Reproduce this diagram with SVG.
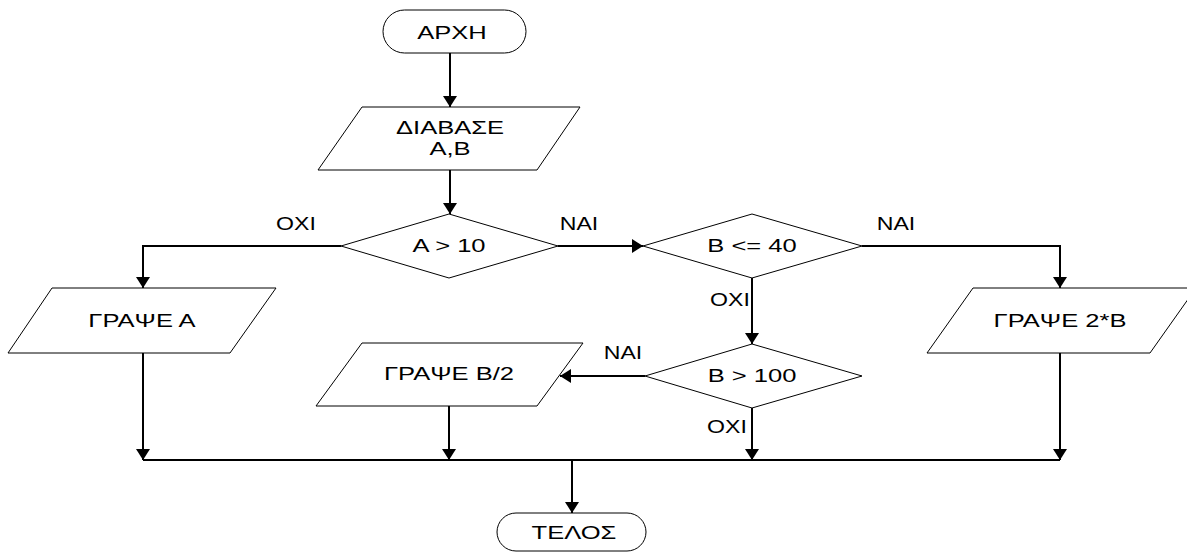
<svg xmlns="http://www.w3.org/2000/svg" width="1187" height="553" viewBox="0 0 1187 553">
<style>
.s{fill:#fff;stroke:#000;stroke-width:1}
.c{fill:none;stroke:#000;stroke-width:2}
text{font-family:"Liberation Sans",Arial,sans-serif;font-size:17.5px;fill:#000;text-anchor:middle;dominant-baseline:central}
</style>
<defs>
<marker id="ah" viewBox="0 0 11 14" refX="11" refY="7" markerWidth="11" markerHeight="14" markerUnits="userSpaceOnUse" orient="auto">
<path d="M0,0 L11,7 L0,14 Z" fill="#000"/>
</marker>
</defs>
<rect width="1187" height="553" fill="#fff"/>
<g id="connectors">
<path class="c" d="M450,53 V107" marker-end="url(#ah)"/>
<path class="c" d="M450,170 V214" marker-end="url(#ah)"/>
<path class="c" d="M341,246 H143 V288" marker-end="url(#ah)"/>
<path class="c" d="M558,246 H643" marker-end="url(#ah)"/>
<path class="c" d="M862,246 H1060 V288" marker-end="url(#ah)"/>
<path class="c" d="M752,278 V344" marker-end="url(#ah)"/>
<path class="c" d="M645,376 H560" marker-end="url(#ah)"/>
<path class="c" d="M143,353 V460" marker-end="url(#ah)"/>
<path class="c" d="M449,406 V460" marker-end="url(#ah)"/>
<path class="c" d="M752,408 V460" marker-end="url(#ah)"/>
<path class="c" d="M1060,353 V460" marker-end="url(#ah)"/>
<path class="c" d="M143,460 H1060"/>
<path class="c" d="M572,460 V513" marker-end="url(#ah)"/>
<text transform="translate(296,224) scale(1.32,1)">ΟΧΙ</text>
<text transform="translate(579,224) scale(1.32,1)">ΝΑΙ</text>
<text transform="translate(896,224) scale(1.32,1)">ΝΑΙ</text>
<text transform="translate(730,300) scale(1.32,1)">ΟΧΙ</text>
<text transform="translate(623,353) scale(1.32,1)">ΝΑΙ</text>
<text transform="translate(727,427) scale(1.32,1)">ΟΧΙ</text>
</g>
<g id="start">
<rect class="s" x="383" y="10" width="143" height="43" rx="21.5"/>
<text transform="translate(452,33) scale(1.46,1)">ΑΡΧΗ</text>
</g>
<g id="read">
<polygon class="s" points="362,107 580,107 537,170 318,170"/>
<text transform="translate(450,128) scale(1.46,1)">ΔΙΑΒΑΣΕ</text>
<text transform="translate(450,149) scale(1.46,1)">Α,Β</text>
</g>
<g id="dec1">
<polygon class="s" points="449,214 558,246 449,278 341,246"/>
<text transform="translate(449,246) scale(1.46,1)">Α &gt; 10</text>
</g>
<g id="writeA">
<polygon class="s" points="52,288 276,288 230,353 8,353"/>
<text transform="translate(142,321) scale(1.46,1)">ΓΡΑΨΕ Α</text>
</g>
<g id="dec2">
<polygon class="s" points="752,214 862,246 752,278 643,246"/>
<text transform="translate(752,246) scale(1.46,1)">Β &lt;= 40</text>
</g>
<g id="write2B">
<polygon class="s" points="973,288 1196,288 1150,353 927,353"/>
<text transform="translate(1060,321) scale(1.46,1)">ΓΡΑΨΕ 2*Β</text>
</g>
<g id="dec3">
<polygon class="s" points="752,344 862,376 752,408 645,376"/>
<text transform="translate(752,376) scale(1.46,1)">Β &gt; 100</text>
</g>
<g id="writeB2">
<polygon class="s" points="362,343 583,343 537,406 316,406"/>
<text transform="translate(449,374) scale(1.46,1)">ΓΡΑΨΕ Β/2</text>
</g>
<g id="end">
<rect class="s" x="497" y="513" width="149" height="38" rx="19"/>
<text transform="translate(574,533) scale(1.46,1)">ΤΕΛΟΣ</text>
</g>
</svg>
